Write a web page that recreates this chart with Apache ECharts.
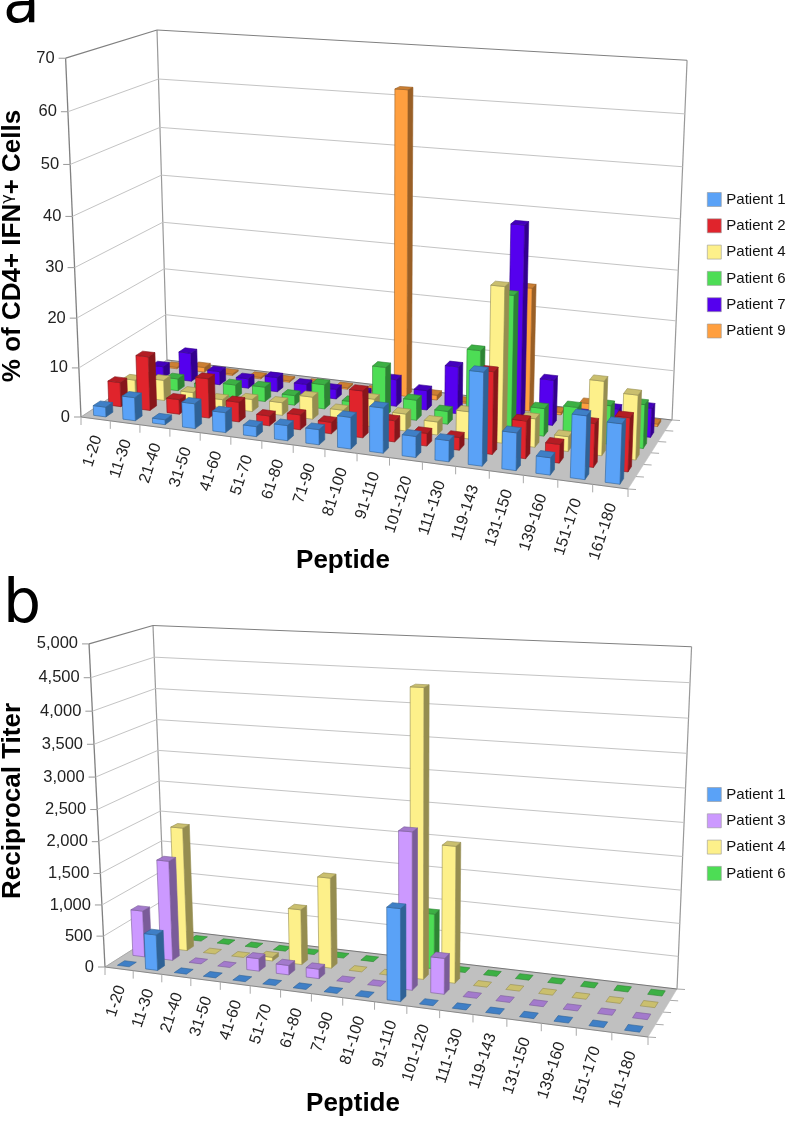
<!DOCTYPE html>
<html><head><meta charset="utf-8">
<script src="https://cdn.jsdelivr.net/npm/echarts@6/dist/echarts.min.js"></script>
<style>html,body{margin:0;padding:0;background:#fff}#c{width:791px;height:1122px}</style></head>
<body><div id="c"></div>
<script>
// ---------- data ----------
const categories = ['1-20','11-30','21-40','31-50','41-60','51-70','61-80','71-90','81-100','91-110','101-120','111-130','119-143','131-150','139-160','151-170','161-180'];
const cellsTicks = [0,10,20,30,40,50,60,70];
const titerTicks = [0,500,1000,1500,2000,2500,3000,3500,4000,4500,5000];

const cellsPatient1 = [2,4.7,1,5,4,2,3,3,6.2,8.8,4.1,4.1,17.9,7.2,3.3,12,11.3];
const cellsPatient2 = [5,11,3,8,4,2,3,2.3,9.3,4.2,2.5,2.5,16,7.3,3.6,8.4,10.3];
const cellsPatient4 = [3.5,4.2,2.4,1.7,2.5,2.6,4.5,2.6,5.6,3.4,2.6,5.4,30.4,5.6,2.9,14.4,12.5];
const cellsPatient6 = [2,2.5,2,2.7,3,2,5,2.2,10,4.1,2.6,15.5,27,5.5,6.5,7.6,8.6];
const cellsPatient7 = [2.4,6,2.8,2,3,2.3,2,2,5.5,4,9.6,3,39,9.1,3,4.8,5.8];
const cellsPatient9 = [.3,1,.3,.3,.3,.3,.3,.3,62,1,.3,.5,25,.5,3,.5,.5];

const titerPatient1 = [0,570,0,0,0,0,0,0,0,1400,0,0,0,0,0,0,0];
const titerPatient3 = [750,1600,0,0,200,150,150,0,0,2400,550,0,0,0,0,0,0];
const titerPatient4 = [0,2000,0,0,60,880,1430,0,0,4400,2100,0,0,0,0,0,0];
const titerPatient6 = [0,0,0,0,0,0,0,0,0,870,0,0,0,0,0,0,0];

const palette = {
  blue:  {front:'#5aa2f7', top:'#3f7fc6', side:'#2f6296'},
  red:   {front:'#e0242c', top:'#b31d24', side:'#87161b'},
  yellow:{front:'#fdf08a', top:'#cabf6e', side:'#958d50'},
  green: {front:'#4ddd55', top:'#3cb044', side:'#2d8433'},
  violet:{front:'#5500ee', top:'#4400bd', side:'#33008e'},
  orange:{front:'#ff9f3f', top:'#cc7f32', side:'#995f26'},
  lilac: {front:'#cc99ff', top:'#a37acc', side:'#7a5c99'}
};

// ---------- projective view of a 3D box ----------
function makeView(c){
  const [p0,p1,p2,p3]=[c.frontLeft,c.frontRight,c.backRight,c.backLeft];
  const dx1=p1[0]-p2[0],dx2=p3[0]-p2[0],dx3=p0[0]-p1[0]+p2[0]-p3[0];
  const dy1=p1[1]-p2[1],dy2=p3[1]-p2[1],dy3=p0[1]-p1[1]+p2[1]-p3[1];
  const den=dx1*dy2-dx2*dy1;
  const g=(dx3*dy2-dx2*dy3)/den,h=(dx1*dy3-dx3*dy1)/den;
  const a=p1[0]-p0[0]+g*p1[0],b=p3[0]-p0[0]+h*p3[0],cc=p0[0];
  const d=p1[1]-p0[1]+g*p1[1],e=p3[1]-p0[1]+h*p3[1],f=p0[1];
  // vanishing point of the verticals
  const L=[c.backLeft,c.backLeftTop],R=[c.backRight,c.backRightTop];
  const sl=(L[1][0]-L[0][0])/(L[1][1]-L[0][1]),sr=(R[1][0]-R[0][0])/(R[1][1]-R[0][1]);
  const vy=(R[0][0]-L[0][0]+sl*L[0][1]-sr*R[0][1])/(sl-sr),vx=L[0][0]+sl*(vy-L[0][1]);
  const bx=b+cc,by=e+f,bw=h+1;
  const k=(c.backLeftTop[1]*bw-by)/(vy-c.backLeftTop[1]);
  return function(u,v,z){
    const W=g*u+h*v+1+z*k;
    return [(a*u+b*v+cc+z*k*vx)/W,(d*u+e*v+f+z*k*vy)/W];
  };
}
const viewA=makeView({frontLeft:[81,417],frontRight:[628,489],backRight:[672,420],backLeft:[167,360],backLeftTop:[157,30],backRightTop:[687,62]});
const viewB=makeView({frontLeft:[105,967],frontRight:[648,1037],backRight:[677,989],backLeft:[165,929],backLeftTop:[153,625.5],backRightTop:[691,660]});

const gridA={left:81,top:61,width:547,height:356};
const gridB={left:105,top:646,width:543,height:321};

function norm(grid,pt){return [(pt[0]-grid.left)/grid.width,(grid.top+grid.height-pt[1])/grid.height];}
function poly(points,fill,stroke,lw){
  return {type:'polygon',shape:{points},style:{fill,stroke:stroke||fill,lineWidth:lw==null?0.6:lw}};
}
function line(p,q,stroke,lw){
  return {type:'line',shape:{x1:p[0],y1:p[1],x2:q[0],y2:q[1]},style:{stroke,lineWidth:lw}};
}
function label(text,x,y,size,align,rot){
  return {type:'text',x,y,rotation:rot||0,style:{text,fill:'#222',font:size+'px "Liberation Sans",Arial,sans-serif',textAlign:align,textVerticalAlign:'middle'}};
}

// ---------- bars ----------
function barSeries(name,values,colors,row,rows,view,grid,idx,z){
  const barU=0.42, barV=0.46;
  return {
    type:'custom',name,coordinateSystem:'cartesian2d',xAxisIndex:idx,yAxisIndex:idx,z,
    itemStyle:{color:colors.front},clip:false,silent:true,
    encode:{x:0,y:1},
    data:values.map((v,i)=>[i,v]),
    renderItem(params,api){
      const pt=api.coord([api.value(0),api.value(1)]);
      const bw=api.size([1,0])[0]/grid.width;
      const [uc,h]=norm(grid,pt);
      const u0=uc-bw*barU/2,u1=uc+bw*barU/2;
      const vc=(row+0.5)/rows,dv=barV/rows/2,v0=vc-dv,v1=vc+dv;
      const P=(u,v,zz)=>view(u,v,zz);
      const edge=colors.side;
      const kids=[];
      if(h>0){
        kids.push(poly([P(u1,v0,0),P(u1,v1,0),P(u1,v1,h),P(u1,v0,h)],colors.side,colors.side));
        kids.push(poly([P(u0,v0,0),P(u1,v0,0),P(u1,v0,h),P(u0,v0,h)],colors.front,edge));
      }
      kids.push(poly([P(u0,v0,h),P(u1,v0,h),P(u1,v1,h),P(u0,v1,h)],colors.top,edge));
      return {type:'group',children:kids};
    }
  };
}

// ---------- frame ----------
function frameSeries(view,idx){
  return {type:'custom',coordinateSystem:'cartesian2d',xAxisIndex:idx,yAxisIndex:idx,z:1,silent:true,clip:false,
    data:[[0,0]],
    renderItem(){
      const c=[view(0,0,0),view(1,0,0),view(1,1,0),view(0,1,0)];
      const t=[view(0,0,1),view(0,1,1),view(1,1,1)];
      return {type:'group',children:[
        poly(c,'#c0c0c0','#c0c0c0',0.5),
        line(c[3],c[2],'#777',1),
        line(c[0],c[1],'#888',1),
        line(c[0],c[3],'#aaa',1),
        line(c[0],t[0],'#808080',1.3),
        line(c[3],t[1],'#999',1.2),
        line(c[2],t[2],'#999',1.2),
        line(t[0],t[1],'#808080',1.3),
        line(t[1],t[2],'#808080',1.2)
      ]};
    }};
}
function gridLineSeries(view,grid,ticks,idx,fmt){
  return {type:'custom',coordinateSystem:'cartesian2d',xAxisIndex:idx,yAxisIndex:idx,z:2,silent:true,clip:false,
    encode:{y:1},
    data:ticks.map(t=>[0,t]),
    renderItem(params,api){
      const val=api.value(1);
      const h=norm(grid,api.coord([0,val]))[1];
      const a=view(0,0,h),b=view(0,1,h),c=view(1,1,h);
      const kids=[line([a[0]-7,a[1]],a,'#999',1),label(fmt(val),a[0]-11,a[1],16.5,'right')];
      if(val>0 && h<1){kids.push(line(a,b,'#c4c4c4',1),line(b,c,'#c4c4c4',1));}
      return {type:'group',children:kids};
    }};
}
function categorySeries(view,grid,idx,rows){
  return {type:'custom',coordinateSystem:'cartesian2d',xAxisIndex:idx,yAxisIndex:idx,z:2,silent:true,clip:false,
    encode:{x:0},
    data:categories.map((c,i)=>[i,0]),
    renderItem(params,api){
      const i=api.value(0);
      const pt=api.coord([i,0]);
      const bw=api.size([1,0])[0]/grid.width;
      const uc=norm(grid,pt)[0];
      const a=view(uc-bw/2,0,0);
      const kids=[line(a,[a[0],a[1]+8],'#aaa',1)];
      const m=view(uc,0,0);
      kids.push(label(categories[i],m[0]+2,m[1]+17,16,'right',72*Math.PI/180));
      if(i===categories.length-1){
        const e=view(uc+bw/2,0,0);
        kids.push(line(e,[e[0],e[1]+8],'#aaa',1));
        for(let r=0;r<=rows;r++){
          const q=view(1,r/rows,0);
          kids.push(line(q,[q[0]+8,q[1]+0.5],'#aaa',1));
        }
      }
      return {type:'group',children:kids};
    }};
}

const seriesA=[
  ['Patient 1',cellsPatient1,palette.blue],
  ['Patient 2',cellsPatient2,palette.red],
  ['Patient 4',cellsPatient4,palette.yellow],
  ['Patient 6',cellsPatient6,palette.green],
  ['Patient 7',cellsPatient7,palette.violet],
  ['Patient 9',cellsPatient9,palette.orange]
];
const seriesB=[
  ['Patient 1',titerPatient1,palette.blue],
  ['Patient 3',titerPatient3,palette.lilac],
  ['Patient 4',titerPatient4,palette.yellow],
  ['Patient 6',titerPatient6,palette.green]
];

const fontName='"Liberation Sans",Arial,sans-serif';
function bigText(text,x,y,size,rot,extra){
  return Object.assign({type:'text',x,y,rotation:rot||0,style:Object.assign({text,fill:'#000',font:'bold '+size+'px '+fontName,textAlign:'center',textVerticalAlign:'middle'},extra||{})},{});
}
const legendText={color:'#111',fontSize:15,fontFamily:'Liberation Sans'};
const legendBase={orient:'vertical',itemWidth:14,itemHeight:14,itemGap:11.3,selectedMode:false,icon:'rect',padding:0,left:707,textStyle:legendText,itemStyle:{borderColor:'#999',borderWidth:0.6}};

const option={
  animation:false,
  backgroundColor:'#fff',
  grid:[Object.assign({},gridA),Object.assign({},gridB)],
  xAxis:[
    {type:'category',gridIndex:0,data:categories,show:false},
    {type:'category',gridIndex:1,data:categories,show:false}
  ],
  yAxis:[
    {type:'value',gridIndex:0,min:0,max:70,interval:10,show:false},
    {type:'value',gridIndex:1,min:0,max:5000,interval:500,show:false}
  ],
  legend:[
    Object.assign({},legendBase,{top:192,data:seriesA.map(s=>s[0])}),
    Object.assign({},legendBase,{top:787,data:seriesB.map(s=>s[0])})
  ],
  graphic:[
    {type:'text',x:3,y:36,style:{text:'a',fill:'#000',font:'60px "DejaVu Sans"',textAlign:'left',textVerticalAlign:'bottom'}},
    {type:'text',x:3,y:636,style:{text:'b',fill:'#000',font:'60px "DejaVu Sans"',textAlign:'left',textVerticalAlign:'bottom'}},
    bigText('% of CD4+ IFN{g|γ}+ Cells',13,246,26,Math.PI/2,{rich:{g:{font:'16px "DejaVu Sans"',fill:'#000',verticalAlign:'top'}}}),
    bigText('Reciprocal Titer',13,801,26,Math.PI/2),
    bigText('Peptide',343,561,26),
    bigText('Peptide',353,1104,26)
  ],
  series:[
    frameSeries(viewA,0),
    gridLineSeries(viewA,gridA,cellsTicks,0,v=>String(v)),
    categorySeries(viewA,gridA,0,6),
    frameSeries(viewB,1),
    gridLineSeries(viewB,gridB,titerTicks,1,v=>v.toLocaleString('en-US')),
    categorySeries(viewB,gridB,1,4)
  ]
   .concat(seriesA.map((s,i)=>barSeries(s[0],s[1],s[2],i,6,viewA,gridA,0,20-i)))
   .concat(seriesB.map((s,i)=>barSeries(s[0],s[1],s[2],i,4,viewB,gridB,1,20-i)))
};
echarts.init(document.getElementById('c'),null,{renderer:'canvas'}).setOption(option);
</script></body></html>
